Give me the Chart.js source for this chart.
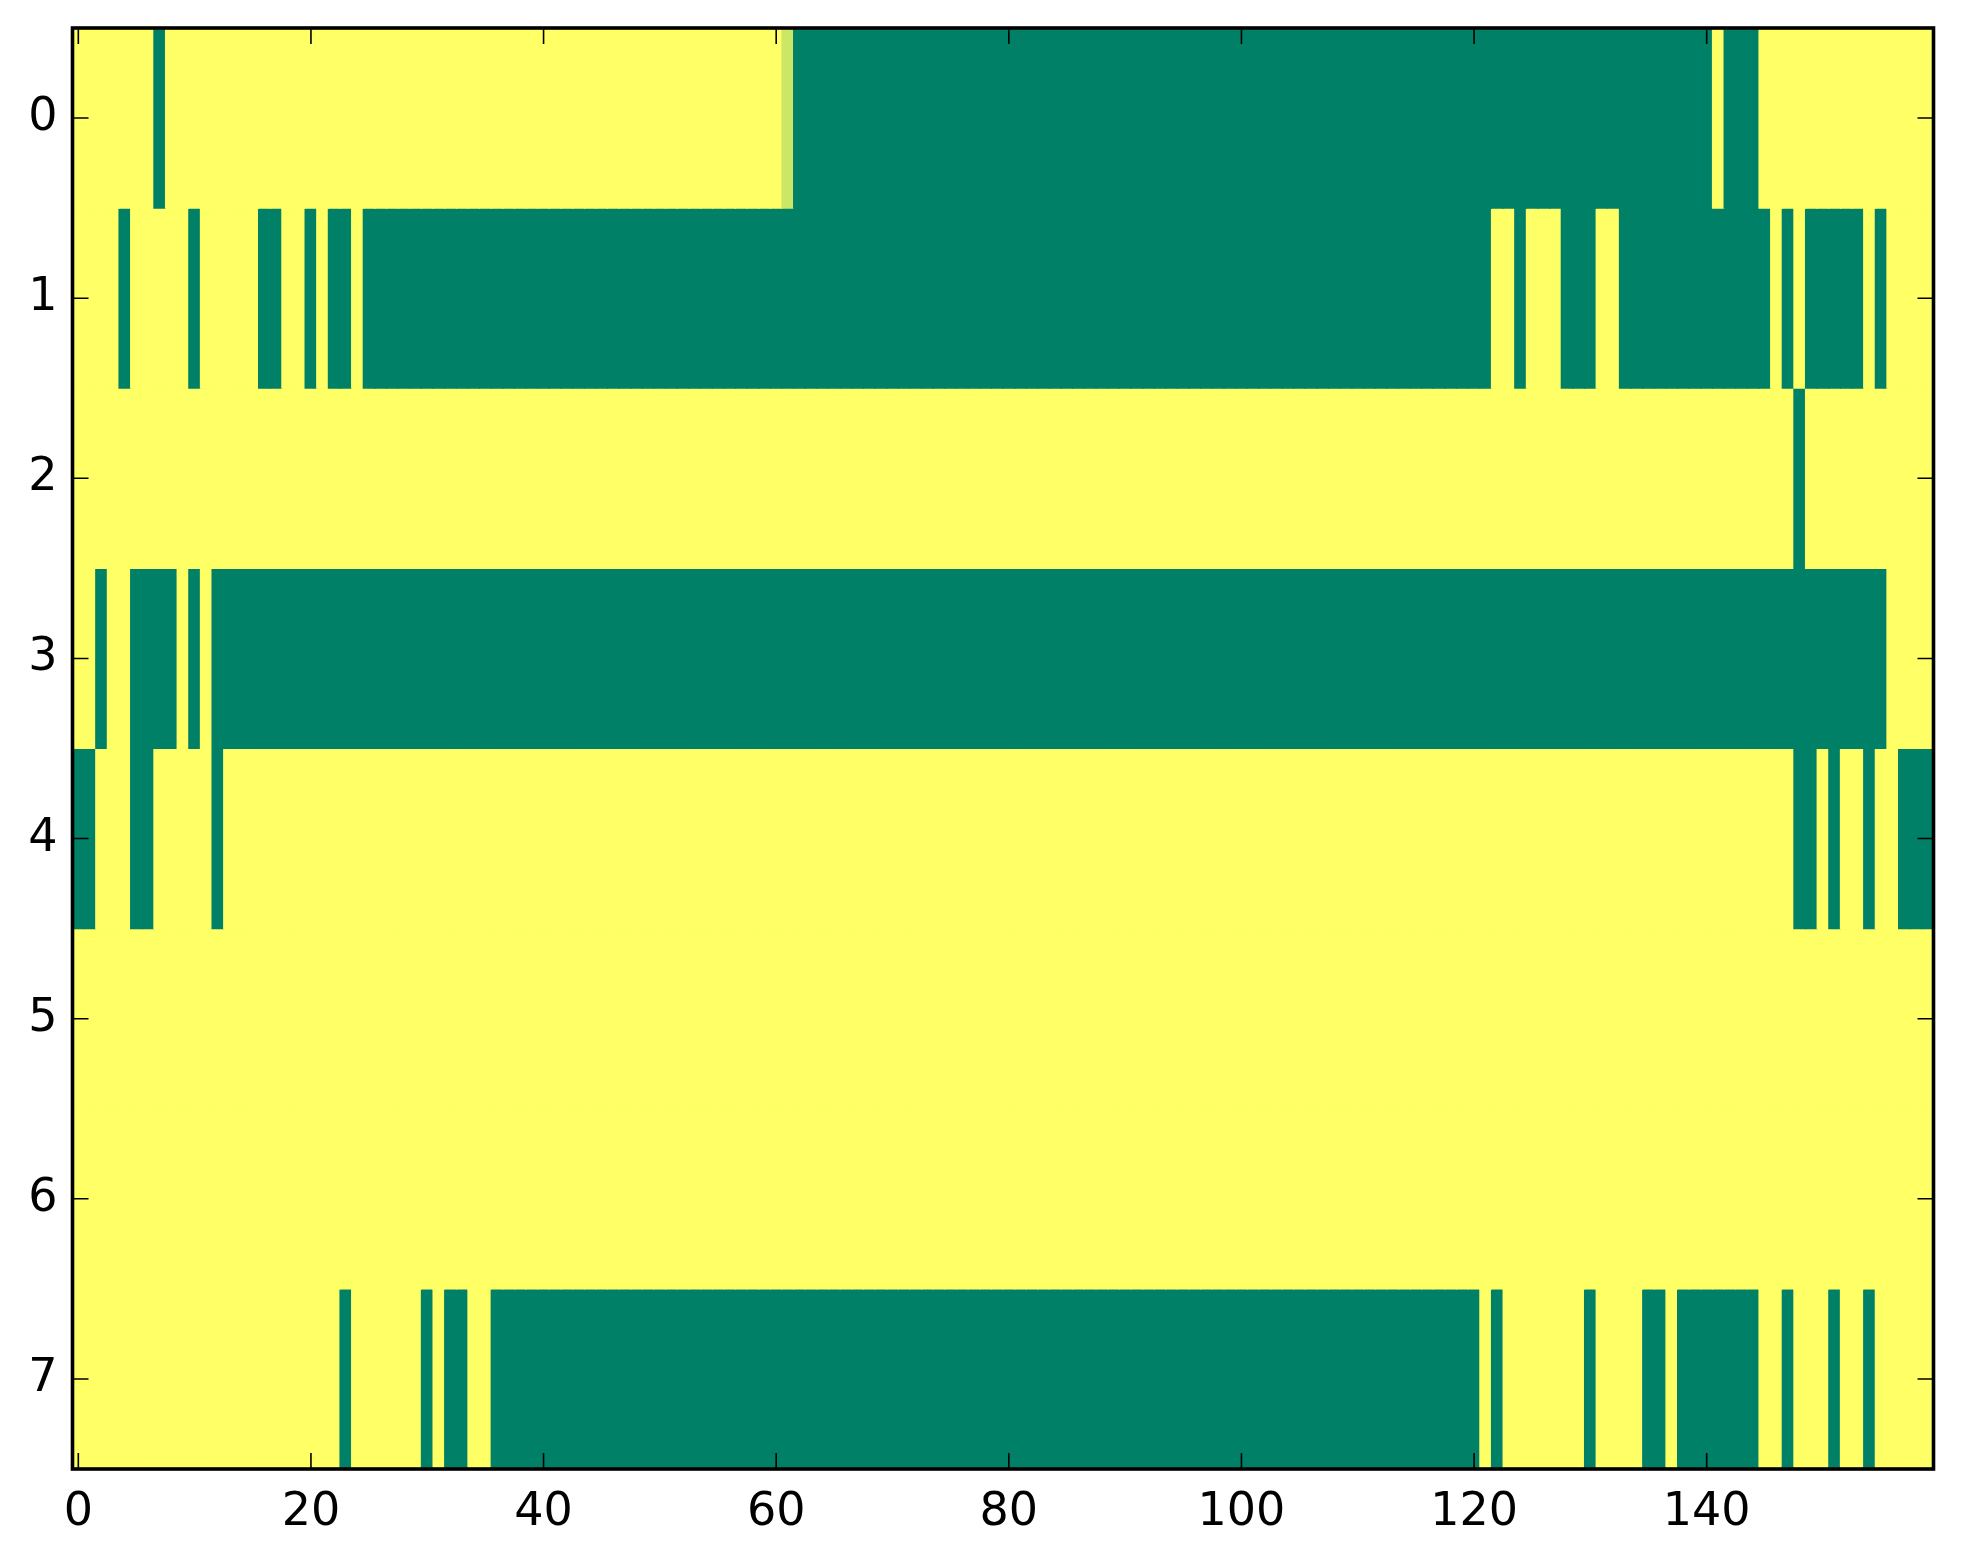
<!DOCTYPE html>
<html>
<head>
<meta charset="utf-8">
<script src="https://cdn.jsdelivr.net/npm/chart.js@4.4.1/dist/chart.umd.min.js"></script>
<style>
  html, body { margin: 0; padding: 0; background: #fff; }
  #wrap { width: 1963px; height: 1564px; }
</style>
</head>
<body>
<div id="wrap"><canvas id="heat" width="1963" height="1564"></canvas></div>
<script>
// one string per row, 160 cells (groups of 10): 1 = yellow, 0 = green, 8 = 0.8
const row0 = '1111111011 1111111111 1111111111 1111111111 1111111111 1111111111 1800000000 0000000000 0000000000 0000000000 0000000000 0000000000 0000000000 0000000000 0100011111 1111111111';
const row1 = '1111011111 0111110011 0100100000 0000000000 0000000000 0000000000 0000000000 0000000000 0000000000 0000000000 0000000000 0000000000 0011011100 0110000000 0000001010 0000101111';
const row2 = '1111111111 1111111111 1111111111 1111111111 1111111111 1111111111 1111111111 1111111111 1111111111 1111111111 1111111111 1111111111 1111111111 1111111111 1111111101 1111111111';
const row3 = '1101100001 0100000000 0000000000 0000000000 0000000000 0000000000 0000000000 0000000000 0000000000 0000000000 0000000000 0000000000 0000000000 0000000000 0000000000 0000001111';
const row4 = '0011100111 1101111111 1111111111 1111111111 1111111111 1111111111 1111111111 1111111111 1111111111 1111111111 1111111111 1111111111 1111111111 1111111111 1111111100 1011011000';
const row5 = '1111111111 1111111111 1111111111 1111111111 1111111111 1111111111 1111111111 1111111111 1111111111 1111111111 1111111111 1111111111 1111111111 1111111111 1111111111 1111111111';
const row6 = '1111111111 1111111111 1111111111 1111111111 1111111111 1111111111 1111111111 1111111111 1111111111 1111111111 1111111111 1111111111 1111111111 1111111111 1111111111 1111111111';
const row7 = '1111111111 1111111111 1110111111 0100110000 0000000000 0000000000 0000000000 0000000000 0000000000 0000000000 0000000000 0000000000 0101111111 0111100100 0000011011 1011011111';

const rowStrings = [row0, row1, row2, row3, row4, row5, row6, row7];
const xTicks = [0, 20, 40, 60, 80, 100, 120, 140];
const yTicks = [0, 1, 2, 3, 4, 5, 6, 7];

function parseRow(s) {
  return s.replace(/ /g, '').split('').map(function (c) {
    return c === '8' ? 0.8 : Number(c);
  });
}

// matplotlib "summer" colormap
function summer(v) {
  return 'rgb(' + Math.round(255 * v) + ',' + Math.round(255 * (0.5 + 0.5 * v)) + ',102)';
}

const datasets = rowStrings.map(function (s, r) {
  const cells = parseRow(s);
  return {
    data: cells.map(function (v, c) { return { x: c, y: [r - 0.5, r + 0.5] }; }),
    backgroundColor: cells.map(summer)
  };
});

// inward ticks on all four sides + frame, like the classic matplotlib style
const frameTicks = {
  id: 'frameTicks',
  afterDraw: function (chart) {
    const ctx = chart.ctx;
    const a = chart.chartArea;
    const xs = chart.scales.x;
    const ys = chart.scales.y;
    const len = 16;
    ctx.save();
    ctx.strokeStyle = '#000';
    ctx.lineWidth = 1.6;
    ctx.beginPath();
    xTicks.forEach(function (v) {
      const px = xs.getPixelForValue(v);
      ctx.moveTo(px, a.bottom); ctx.lineTo(px, a.bottom - len);
      ctx.moveTo(px, a.top); ctx.lineTo(px, a.top + len);
    });
    yTicks.forEach(function (v) {
      const py = ys.getPixelForValue(v);
      ctx.moveTo(a.left, py); ctx.lineTo(a.left + len, py);
      ctx.moveTo(a.right, py); ctx.lineTo(a.right - len, py);
    });
    ctx.stroke();
    ctx.lineWidth = 3.6;
    ctx.strokeRect(a.left, a.top, a.right - a.left, a.bottom - a.top);
    ctx.restore();
  }
};

function noPadding(axis) {
  axis.paddingTop = 0;
  axis.paddingBottom = 0;
  axis.paddingLeft = 0;
  axis.paddingRight = 0;
}

Chart.defaults.font.family = "'DejaVu Sans', sans-serif";
Chart.defaults.font.size = 46;
Chart.defaults.color = '#000';

new Chart(document.getElementById('heat'), {
  type: 'bar',
  data: { datasets: datasets },
  plugins: [frameTicks],
  options: {
    responsive: false,
    devicePixelRatio: 1,
    animation: false,
    layout: { padding: { top: 28, right: 29.5, left: 0, bottom: 0 } },
    plugins: {
      legend: { display: false },
      tooltip: { enabled: false }
    },
    datasets: {
      bar: {
        grouped: false,
        barPercentage: 1,
        categoryPercentage: 1,
        borderWidth: 0,
        inflateAmount: 0.6
      }
    },
    scales: {
      x: {
        type: 'linear',
        min: -0.5,
        max: 159.5,
        offset: false,
        grid: { display: false, drawTicks: false },
        border: { display: false },
        ticks: { padding: 16, maxRotation: 0 },
        afterBuildTicks: function (axis) {
          axis.ticks = xTicks.map(function (v) { return { value: v }; });
        },
        afterFit: function (axis) {
          axis.height = 95;
          noPadding(axis);
        }
      },
      y: {
        type: 'linear',
        reverse: true,
        min: -0.5,
        max: 7.5,
        grid: { display: false, drawTicks: false },
        border: { display: false },
        ticks: { padding: 15 },
        afterBuildTicks: function (axis) {
          axis.ticks = yTicks.map(function (v) { return { value: v }; });
        },
        afterFit: function (axis) {
          axis.width = 72.5;
          noPadding(axis);
        }
      }
    }
  }
});
</script>
</body>
</html>
